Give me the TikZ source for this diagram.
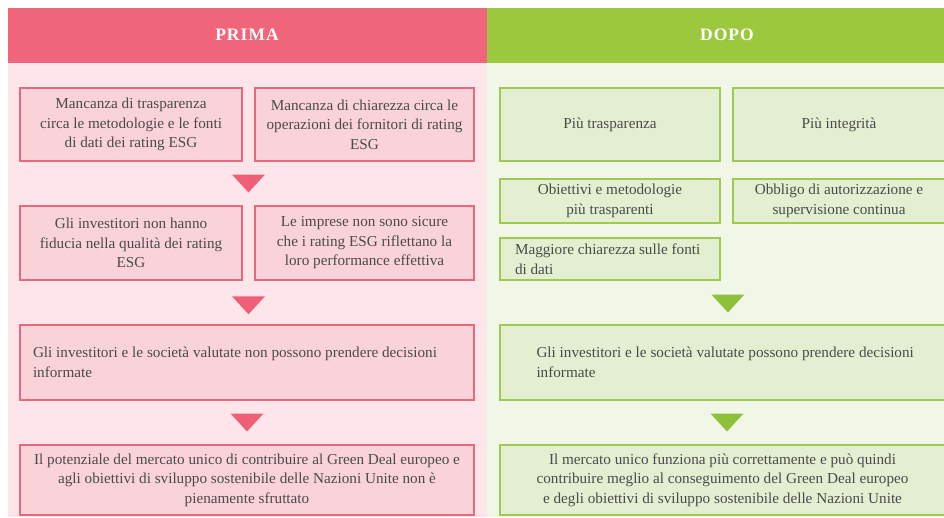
\documentclass[tikz,border=0pt]{standalone}
\usepackage{fontspec}
\setmainfont{Liberation Serif}
\usetikzlibrary{calc}
\definecolor{redhead}{HTML}{F1657B}
\definecolor{pinkbg}{HTML}{FDE5E9}
\definecolor{pinkfill}{HTML}{FAD3DA}
\definecolor{pinkborder}{HTML}{E8687E}
\definecolor{pinktri}{HTML}{EF6078}
\definecolor{greenhead}{HTML}{9CC83E}
\definecolor{greenbg}{HTML}{F1F7E7}
\definecolor{greenfill}{HTML}{E4EFD1}
\definecolor{greenborder}{HTML}{9DCB52}
\definecolor{greentri}{HTML}{8EC13A}
\definecolor{txt}{HTML}{4A4A4A}
\tikzset{
  boxbase/.style={line width=2.6pt, inner sep=0pt, text=txt,
    font=\fontsize{15.2}{19.5}\selectfont},
  pbox/.style={boxbase, draw=pinkborder, fill=pinkfill},
  gbox/.style={boxbase, draw=greenborder, fill=greenfill},
  headtxt/.style={text=white, font=\fontsize{17.5}{19}\selectfont\bfseries\addfontfeatures{LetterSpace=6}},
}
\newcommand{\downtri}[2]{\fill[#1] ($(#2)+(-16.5,-9)$) -- ($(#2)+(16.5,-9)$) -- ($(#2)+(0,9)$) -- cycle;}
\begin{document}
\begin{tikzpicture}[x=1pt,y=-1pt]
\useasboundingbox (0,0) rectangle (944,517);
\fill[white] (0,0) rectangle (944,517);
% panels
\fill[pinkbg] (8,63) rectangle (487,517);
\fill[greenbg] (487,63) rectangle (944,517);
\fill[redhead] (8,8) rectangle (487,63);
\fill[greenhead] (487,8) rectangle (944,63);
\node[headtxt] (prima) at (247,35) {PRIMA};
\node[headtxt] (dopo) at (727,35) {DOPO};
% left boxes
\node[pbox, minimum width=222, minimum height=73, align=center] (A) at (131,124.5)
  {Mancanza di trasparenza\\circa le metodologie e le fonti\\di dati dei rating ESG};
\node[pbox, minimum width=219, minimum height=73, align=center] (B) at (364.5,124.5)
  {Mancanza di chiarezza circa le\\operazioni dei fornitori di rating\\ESG};
\node[pbox, minimum width=222, minimum height=74, align=center] (C) at (131,243)
  {Gli investitori non hanno\\fiducia nella qualità dei rating\\ESG};
\node[pbox, minimum width=219, minimum height=74, align=center] (D) at (364.5,243)
  {Le imprese non sono sicure\\che i rating ESG riflettano la\\loro performance effettiva};
\node[pbox, minimum width=454, minimum height=75, text width=428, align=flush left] (E) at (247,362.5)
  {Gli investitori e le società valutate non possono prendere decisioni\\informate};
\node[pbox, minimum width=454, minimum height=70, align=center] (F) at (247,480)
  {Il potenziale del mercato unico di contribuire al Green Deal europeo e\\agli obiettivi di sviluppo sostenibile delle Nazioni Unite non è\\pienamente sfruttato};
% right boxes
\node[gbox, minimum width=220, minimum height=73, align=center] (G) at (610,124.5)
  {Più trasparenza};
\node[gbox, minimum width=212, minimum height=73, align=center] (H) at (839,124.5)
  {Più integrità};
\node[gbox, minimum width=220, minimum height=44, align=center] (I) at (610,201)
  {Obiettivi e metodologie\\più trasparenti};
\node[gbox, minimum width=220, minimum height=42, text width=190, align=flush left] (K) at (610,259)
  {Maggiore chiarezza sulle fonti\\di dati};
\node[gbox, minimum width=212, minimum height=44, align=center] (J) at (839,201)
  {Obbligo di autorizzazione e\\supervisione continua};
\node[gbox, minimum width=445, minimum height=75, text width=410, align=flush left] (L) at (722.5,362.5)
  {\hspace*{19pt}Gli investitori e le società valutate possono prendere decisioni\\\hspace*{19pt}informate};
\node[gbox, minimum width=445, minimum height=70, align=center] (M) at (722.5,480)
  {Il mercato unico funziona più correttamente e può quindi\\contribuire meglio al conseguimento del Green Deal europeo\\e degli obiettivi di sviluppo sostenibile delle Nazioni Unite};
% arrows (triangles) between rows
\coordinate (t1) at ($(A.south east)!0.5!(D.north west)$);
\coordinate (t2) at ($(C.south east)!0.5!(D.south west)+(0,24)$);
\coordinate (t3) at ($(E.south)!0.5!(F.north)$);
\coordinate (t4) at ($(K.south east)!0.5!(L.north)+(6,1)$);
\coordinate (t5) at ($(L.south)!0.5!(M.north)+(4.5,0)$);
\downtri{pinktri}{t1}
\downtri{pinktri}{t2}
\downtri{pinktri}{t3}
\downtri{greentri}{t4}
\downtri{greentri}{t5}
\end{tikzpicture}
\end{document}
